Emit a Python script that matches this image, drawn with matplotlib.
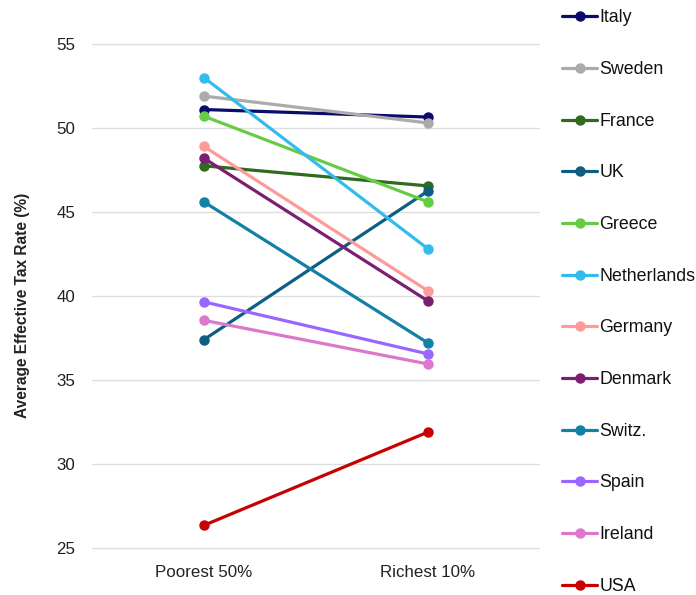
import matplotlib.pyplot as plt

plt.rcParams['font.family'] = ['Liberation Sans', 'DejaVu Sans']

groups = ['Poorest 50%', 'Richest 10%']
countries = ['Italy', 'Sweden', 'France', 'UK', 'Greece', 'Netherlands',
             'Germany', 'Denmark', 'Switz.', 'Spain', 'Ireland', 'USA']
poorest = [51.1, 51.9, 47.75, 37.4, 50.7, 53.0, 48.9, 48.2, 45.6, 39.65, 38.55, 26.35]
richest = [50.65, 50.3, 46.55, 46.25, 45.6, 42.8, 40.3, 39.7, 37.2, 36.55, 35.95, 31.9]
colors = ['#0b0b6e', '#ababab', '#2f6a1f', '#0d5e82', '#66cc44', '#33bbee',
          '#ff9a9a', '#7c1f72', '#1380a6', '#9966ff', '#dd77cc', '#c80000']

fig = plt.figure(figsize=(6.96, 5.95), dpi=100)
# y range padded a little so the 25 gridline is not clipped at the bottom edge
ax = fig.add_axes([0.132, 0.0762, 0.644, 0.8527])

x = range(len(groups))
for name, lo, hi, c in zip(countries, poorest, richest, colors):
    ax.plot(x, [lo, hi], color=c, lw=2.3, marker='o', ms=6.5, label=name,
            solid_capstyle='round')

ax.set_xlim(-0.5, 1.5)
ax.set_ylim(24.9, 55.1)
ax.set_yticks(range(25, 56, 5))
ax.set_xticks(list(x))
ax.set_xticklabels(groups)
ax.grid(axis='y', color='#dedede', lw=1)
ax.set_axisbelow(True)
for s in ax.spines.values():
    s.set_visible(False)
ax.tick_params(length=0, labelsize=12.2, colors='#222222')
ax.tick_params(axis='y', pad=12)
ax.tick_params(axis='x', pad=11)
ax.set_ylabel('Average Effective Tax Rate (%)', fontsize=11.2, fontweight='bold',
              color='#222222')
ax.yaxis.set_label_coords(-0.138, 0.482)

fig.legend(loc='upper left', bbox_to_anchor=(0.797, 0.996), frameon=False,
           fontsize=12.8, labelspacing=1.95, handlelength=2.0, handletextpad=0.1,
           labelcolor='#111111', borderaxespad=0)

fig.savefig('out.png', dpi=100)
